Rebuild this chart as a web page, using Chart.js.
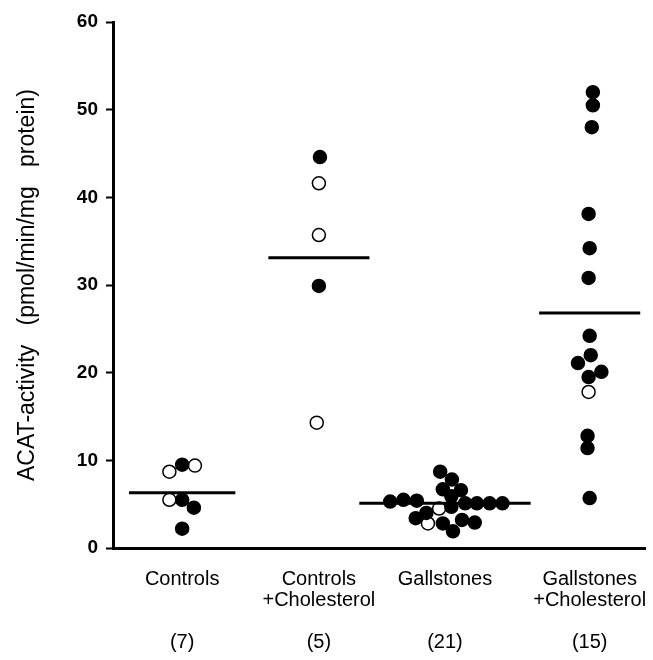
<!DOCTYPE html>
<html>
<head>
<meta charset="utf-8">
<script src="https://cdn.jsdelivr.net/npm/chart.js@4"></script>
<style>
  body { margin: 0; background: #fff; }
  #wrap { width: 653px; height: 660px; }
</style>
</head>
<body>
<div id="wrap"><canvas id="acatChart" width="653" height="660"></canvas></div>
<script>
// group names, sample sizes, and where each group sits on the x axis (0-100)
const groupLabels = [['Controls'], ['Controls', '+Cholesterol'], ['Gallstones'], ['Gallstones', '+Cholesterol']];
const groupN = ['(7)', '(5)', '(21)', '(15)'];
const groupX = [13.0, 38.7, 62.4, 89.6];

// group mean bars
const meanValues = [6.3, 33.1, 5.1, 26.8];
const meanHalfWidth = [10, 9.5, 16.1, 9.5];

// individual values (open = open circle), offsets = sideways spread of the dots
const controlsValues = [8.7, 5.5, 9.4, 9.5, 5.5, 4.6, 2.2];
const controlsOffsets = [-2.4, -2.4, 2.4, 0, 0, 2.2, 0];
const controlsOpen = [true, true, true, false, false, false, false];

const ctrlCholValues = [44.6, 41.6, 35.7, 29.9, 14.3];
const ctrlCholOffsets = [0.2, 0, 0, 0, -0.4];
const ctrlCholOpen = [false, true, true, false, true];

const gallValues = [4.5, 2.8, 5.3, 5.5, 5.4, 5.1, 5.1, 5.1, 5.1, 8.7, 7.8, 6.7, 6.6, 5.9, 4.7, 3.4, 4.0, 2.8, 1.9, 3.2, 2.9];
const gallOffsets = [-1.1, -3.2, -10.3, -7.8, -5.3, 3.8, 6.0, 8.4, 10.8, -0.9, 1.3, -0.4, 3.0, 1.2, 1.2, -5.5, -3.5, -0.4, 1.5, 3.2, 5.6];
const gallOpen = [true, true, false, false, false, false, false, false, false, false, false, false, false, false, false, false, false, false, false, false, false];

const gallCholValues = [52.0, 50.5, 48.0, 38.1, 34.2, 30.8, 24.2, 22.0, 21.1, 20.1, 19.5, 17.8, 12.8, 11.4, 5.7];
const gallCholOffsets = [0.6, 0.6, 0.4, -0.2, 0, -0.2, 0, 0.2, -2.2, 2.2, -0.2, -0.2, -0.4, -0.4, 0];
const gallCholOpen = [false, false, false, false, false, false, false, false, false, false, false, true, false, false, false];

const yTicks = [0, 10, 20, 30, 40, 50, 60];

const pointSets = [
  [controlsValues, controlsOffsets, controlsOpen],
  [ctrlCholValues, ctrlCholOffsets, ctrlCholOpen],
  [gallValues, gallOffsets, gallOpen],
  [gallCholValues, gallCholOffsets, gallCholOpen]
];

const datasets = [];

// mean bars first so the dots sit on top
meanValues.forEach((m, g) => {
  datasets.push({
    type: 'line',
    data: [{ x: groupX[g] - meanHalfWidth[g], y: m }, { x: groupX[g] + meanHalfWidth[g], y: m }],
    borderColor: '#000',
    borderWidth: 3,
    pointRadius: 0,
    fill: false
  });
});

pointSets.forEach(([vals, offs, open], g) => {
  datasets.push({
    type: 'scatter',
    data: vals.map((v, i) => ({ x: groupX[g] + offs[i], y: v })),
    pointRadius: 6.5,
    pointHoverRadius: 6.5,
    pointBorderColor: '#000',
    pointBorderWidth: 1.5,
    pointBackgroundColor: ctx => open[ctx.dataIndex] ? '#fff' : '#000'
  });
});

const ctx = document.getElementById('acatChart').getContext('2d');

new Chart(ctx, {
  data: { datasets: datasets },
  options: {
    responsive: false,
    animation: false,
    layout: { padding: { top: 22, right: 0, left: 0, bottom: 0 } },
    plugins: {
      legend: { display: false },
      tooltip: { enabled: false }
    },
    scales: {
      x: {
        type: 'linear',
        min: 0,
        max: 100,
        afterBuildTicks(axis) {
          axis.ticks = groupX.map(v => ({ value: v }));
        },
        afterFit(axis) {
          axis.height = 112;
          // labels fit inside the canvas, no extra side padding wanted
          axis.paddingLeft = 0;
          axis.paddingRight = 0;
        },
        grid: { display: false },
        border: { display: true, color: '#000', width: 3 },
        ticks: {
          autoSkip: false,
          maxRotation: 0,
          padding: 13,
          color: '#000',
          font: { family: '"Liberation Sans", Arial, sans-serif', size: 20, lineHeight: 1.05 },
          callback: function (value, index) {
            const lines = groupLabels[index].slice();
            while (lines.length < 3) lines.push('');
            lines.push(groupN[index]);
            return lines;
          }
        }
      },
      y: {
        type: 'linear',
        min: 0,
        max: 60,
        afterBuildTicks(axis) {
          axis.ticks = yTicks.map(v => ({ value: v }));
        },
        afterFit(axis) { axis.width = 113; },
        grid: {
          display: true,
          drawOnChartArea: false,
          drawTicks: true,
          tickLength: 7,
          tickWidth: 2,
          color: '#000'
        },
        border: { display: true, color: '#000', width: 3 },
        ticks: {
          padding: 8,
          color: '#000',
          font: { family: '"Liberation Sans", Arial, sans-serif', size: 19, weight: 'bold' }
        },
        title: {
          display: true,
          text: 'ACAT-activity   (pmol/min/mg   protein)',
          color: '#000',
          padding: { top: 14, bottom: 0 },
          font: { family: '"Liberation Sans", Arial, sans-serif', size: 23 }
        }
      }
    }
  }
});
</script>
</body>
</html>
